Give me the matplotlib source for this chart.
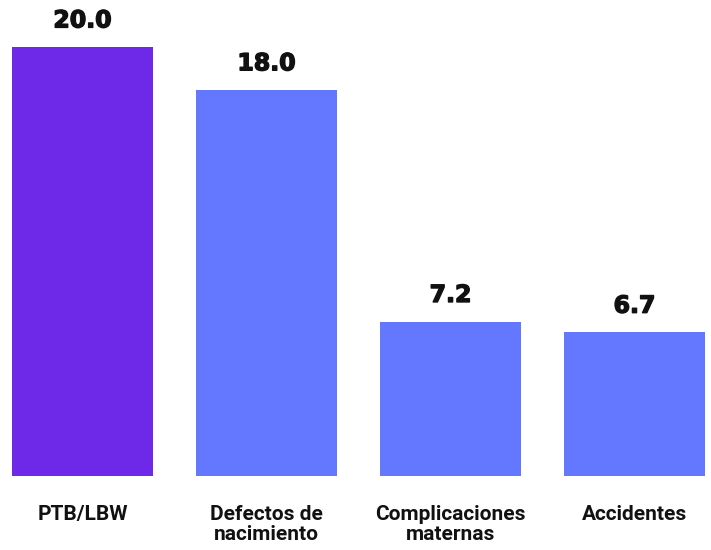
import matplotlib
matplotlib.use("Agg")
import matplotlib.pyplot as plt
import matplotlib.patheffects as pe

categories = ["PTB/LBW", "Defectos de\nnacimiento", "Complicaciones\nmaternas", "Accidentes"]
values = [20.0, 18.0, 7.2, 6.7]
bar_colors = ["#6e29e8", "#6478ff", "#6478ff", "#6478ff"]

fig = plt.figure(figsize=(7.11, 5.5), dpi=100)
ax = fig.add_axes([12 / 711, 1 - 476 / 550, 693 / 711, 429 / 550])

x = list(range(len(categories)))
width = 0.766
bars = ax.bar(x, values, width=width, color=bar_colors)

for xi, v in zip(x, values):
    ax.annotate(f"{v:.1f}", xy=(xi, v), xytext=(0, 10.5), textcoords="offset points",
                ha="center", va="bottom", fontsize=17, fontweight="bold",
                family="DejaVu Sans", color="#111111", annotation_clip=False,
                path_effects=[pe.withStroke(linewidth=1.0, foreground="#111111")])

ax.set_xlim(-width / 2, len(categories) - 1 + width / 2)
ax.set_ylim(0, 20)
ax.set_xticks(x)
ax.set_xticklabels(categories, fontsize=15, fontweight="bold",
                   family=["Roboto", "DejaVu Sans"], color="#111111", linespacing=1.08)
ax.tick_params(axis="x", length=0, pad=21)
ax.set_yticks([])
for s in ax.spines.values():
    s.set_visible(False)

fig.savefig("out.png", dpi=100, facecolor="white")
